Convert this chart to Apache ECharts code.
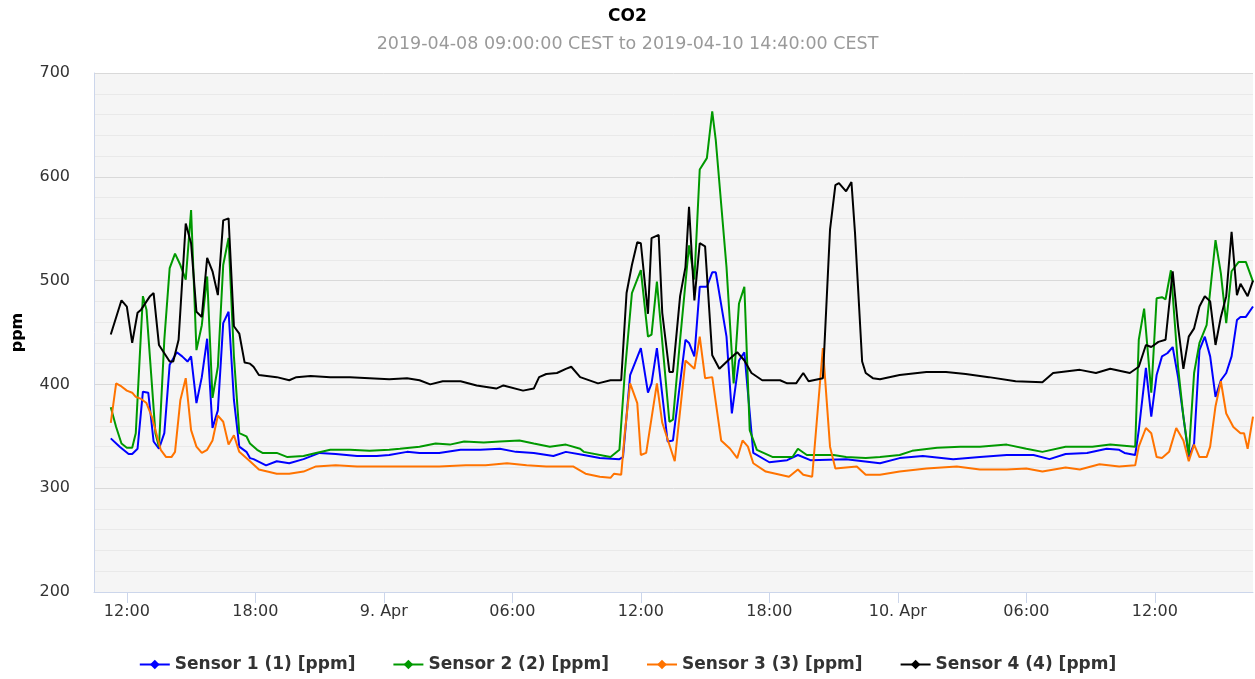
<!DOCTYPE html>
<html>
<head>
<meta charset="utf-8">
<title>CO2</title>
<script src="https://cdn.jsdelivr.net/npm/echarts@6/dist/echarts.min.js"></script>
<style>
  html, body { margin: 0; padding: 0; background: #fff; }
  #co2chart { width: 1255px; height: 679px; }
</style>
</head>
<body>
<div id="co2chart"></div>
<script>
// readings [time 'MM-DD HH:mm' (2019), ppm]
var sensor1 = [
  ['04-08 11:15',348],['04-08 11:40',340],['04-08 12:05',333],['04-08 12:15',333],['04-08 12:30',338],['04-08 12:45',393],
  ['04-08 13:00',392],['04-08 13:15',345],['04-08 13:30',338],['04-08 13:45',353],['04-08 14:00',419],['04-08 14:20',431],
  ['04-08 14:35',427],['04-08 14:50',422],['04-08 15:00',427],['04-08 15:15',382],['04-08 15:30',407],['04-08 15:45',444],
  ['04-08 16:00',358],['04-08 16:15',375],['04-08 16:30',459],['04-08 16:45',470],['04-08 17:00',385],['04-08 17:15',340],
  ['04-08 17:35',335],['04-08 17:45',329],['04-08 17:55',328],['04-08 18:30',322],['04-08 19:00',326],['04-08 19:35',324],
  ['04-08 20:15',328],['04-08 21:00',334],['04-08 21:45',333],['04-08 22:45',331],['04-08 23:40',331],['04-09 00:15',332],
  ['04-09 01:05',335],['04-09 01:40',334],['04-09 02:35',334],['04-09 03:35',337],['04-09 04:30',337],['04-09 05:25',338],
  ['04-09 06:10',335],['04-09 07:00',334],['04-09 07:55',331],['04-09 08:30',335],['04-09 09:20',332],['04-09 10:05',329],
  ['04-09 11:00',328],['04-09 11:10',330],['04-09 11:30',409],['04-09 12:00',435],['04-09 12:20',392],['04-09 12:30',401],
  ['04-09 12:45',435],['04-09 13:15',345],['04-09 13:30',346],['04-09 14:05',443],['04-09 14:15',440],['04-09 14:30',427],
  ['04-09 14:45',494],['04-09 15:05',494],['04-09 15:20',508],['04-09 15:30',508],['04-09 16:00',446],['04-09 16:15',372],
  ['04-09 16:35',423],['04-09 16:50',431],['04-09 17:15',334],['04-09 18:00',325],['04-09 18:50',327],['04-09 19:20',332],
  ['04-09 19:55',327],['04-09 21:35',328],['04-09 23:10',324],['04-10 00:05',329],['04-10 01:10',331],['04-10 02:35',328],
  ['04-10 03:50',330],['04-10 05:05',332],['04-10 06:20',332],['04-10 07:05',328],['04-10 07:50',333],['04-10 08:50',334],
  ['04-10 09:45',338],['04-10 10:20',337],['04-10 10:35',334],['04-10 11:05',332],['04-10 11:15',356],['04-10 11:35',416],
  ['04-10 11:50',369],['04-10 12:05',409],['04-10 12:20',427],['04-10 12:35',430],['04-10 12:50',436],['04-10 13:05',407],
  ['04-10 13:20',369],['04-10 13:35',330],['04-10 13:50',343],['04-10 14:05',433],['04-10 14:20',446],['04-10 14:35',427],
  ['04-10 14:50',388],['04-10 15:05',404],['04-10 15:20',411],['04-10 15:35',427],['04-10 15:50',462],['04-10 16:00',465],
  ['04-10 16:15',465],['04-10 16:35',475]
];

var sensor2 = [
  ['04-08 11:15',378],['04-08 11:30',359],['04-08 11:45',343],['04-08 12:00',339],['04-08 12:15',339],['04-08 12:25',353],
  ['04-08 12:45',485],['04-08 12:55',472],['04-08 13:10',401],['04-08 13:20',353],['04-08 13:30',340],['04-08 13:45',443],
  ['04-08 14:00',512],['04-08 14:15',526],['04-08 14:30',515],['04-08 14:45',501],['04-08 15:00',568],['04-08 15:15',433],
  ['04-08 15:30',457],['04-08 15:45',504],['04-08 16:00',387],['04-08 16:15',417],['04-08 16:30',515],['04-08 16:45',541],
  ['04-08 17:00',427],['04-08 17:15',353],['04-08 17:35',350],['04-08 17:45',343],['04-08 18:05',337],['04-08 18:20',334],
  ['04-08 19:00',334],['04-08 19:30',330],['04-08 20:15',331],['04-08 20:50',334],['04-08 21:30',337],['04-08 22:25',337],
  ['04-08 23:20',336],['04-09 00:15',337],['04-09 00:45',338],['04-09 01:40',340],['04-09 02:25',343],['04-09 03:05',342],
  ['04-09 03:45',345],['04-09 04:40',344],['04-09 05:25',345],['04-09 06:20',346],['04-09 07:00',343],['04-09 07:45',340],
  ['04-09 08:30',342],['04-09 09:10',338],['04-09 09:20',335],['04-09 10:35',330],['04-09 11:00',337],['04-09 11:15',411],
  ['04-09 11:35',488],['04-09 12:00',510],['04-09 12:20',446],['04-09 12:30',448],['04-09 12:45',499],['04-09 13:20',364],
  ['04-09 13:30',366],['04-09 13:50',443],['04-09 14:15',534],['04-09 14:30',501],['04-09 14:45',607],['04-09 15:05',618],
  ['04-09 15:20',663],['04-09 15:30',635],['04-09 16:00',513],['04-09 16:20',401],['04-09 16:35',478],['04-09 16:50',494],
  ['04-09 17:05',356],['04-09 17:25',337],['04-09 18:10',330],['04-09 19:05',330],['04-09 19:20',338],['04-09 19:45',332],
  ['04-09 21:00',332],['04-09 21:35',330],['04-09 22:30',329],['04-09 23:10',330],['04-10 00:05',332],['04-10 00:40',336],
  ['04-10 01:50',339],['04-10 02:55',340],['04-10 03:50',340],['04-10 05:05',342],['04-10 06:00',338],['04-10 06:45',335],
  ['04-10 07:50',340],['04-10 09:05',340],['04-10 09:55',342],['04-10 11:05',340],['04-10 11:15',443],['04-10 11:30',473],
  ['04-10 11:50',392],['04-10 12:05',483],['04-10 12:20',484],['04-10 12:30',482],['04-10 12:45',510],['04-10 13:05',417],
  ['04-10 13:20',369],['04-10 13:35',332],['04-10 13:50',411],['04-10 14:05',440],['04-10 14:25',457],['04-10 14:50',539],
  ['04-10 15:05',507],['04-10 15:20',459],['04-10 15:35',509],['04-10 15:55',518],['04-10 16:15',518],['04-10 16:35',499]
];

var sensor3 = [
  ['04-08 11:15',363],['04-08 11:30',401],['04-08 11:45',398],['04-08 12:00',394],['04-08 12:15',392],['04-08 12:25',388],
  ['04-08 12:40',386],['04-08 12:55',382],['04-08 13:10',369],['04-08 13:20',356],['04-08 13:35',337],['04-08 13:50',330],
  ['04-08 14:05',330],['04-08 14:15',335],['04-08 14:30',385],['04-08 14:45',406],['04-08 15:00',356],['04-08 15:15',340],
  ['04-08 15:30',334],['04-08 15:45',337],['04-08 16:00',346],['04-08 16:15',370],['04-08 16:30',364],['04-08 16:45',342],
  ['04-08 17:00',351],['04-08 17:15',335],['04-08 17:45',326],['04-08 18:10',318],['04-08 19:00',314],['04-08 19:35',314],
  ['04-08 20:15',316],['04-08 20:50',321],['04-08 21:45',322],['04-08 22:45',321],['04-08 23:40',321],['04-09 00:15',321],
  ['04-09 01:05',321],['04-09 01:40',321],['04-09 02:35',321],['04-09 03:50',322],['04-09 04:45',322],['04-09 05:45',324],
  ['04-09 06:40',322],['04-09 07:35',321],['04-09 08:50',321],['04-09 09:25',314],['04-09 10:05',311],['04-09 10:35',310],
  ['04-09 10:45',314],['04-09 11:05',313],['04-09 11:15',353],['04-09 11:30',401],['04-09 11:50',382],['04-09 12:00',332],
  ['04-09 12:15',334],['04-09 12:45',401],['04-09 13:00',363],['04-09 13:35',326],['04-09 14:05',423],['04-09 14:30',415],
  ['04-09 14:45',446],['04-09 15:00',406],['04-09 15:20',407],['04-09 15:45',346],['04-09 16:10',338],['04-09 16:30',329],
  ['04-09 16:45',346],['04-09 17:00',340],['04-09 17:15',324],['04-09 17:50',316],['04-09 18:55',311],['04-09 19:20',318],
  ['04-09 19:35',313],['04-09 20:00',311],['04-09 20:05',312],['04-09 20:30',435],['04-09 20:50',340],['04-09 21:05',319],
  ['04-09 22:05',321],['04-09 22:30',313],['04-09 23:10',313],['04-10 00:05',316],['04-10 01:20',319],['04-10 02:45',321],
  ['04-10 03:50',318],['04-10 05:05',318],['04-10 06:00',319],['04-10 06:45',316],['04-10 07:50',320],['04-10 08:30',318],
  ['04-10 09:25',323],['04-10 10:20',321],['04-10 11:05',322],['04-10 11:15',340],['04-10 11:35',358],['04-10 11:50',353],
  ['04-10 12:05',330],['04-10 12:20',329],['04-10 12:40',335],['04-10 13:00',358],['04-10 13:20',346],['04-10 13:35',326],
  ['04-10 13:50',342],['04-10 14:05',330],['04-10 14:25',330],['04-10 14:35',340],['04-10 14:50',379],['04-10 15:05',403],
  ['04-10 15:20',372],['04-10 15:40',359],['04-10 16:00',353],['04-10 16:10',353],['04-10 16:20',338],['04-10 16:35',369]
];

var sensor4 = [
  ['04-08 11:15',448],['04-08 11:45',481],['04-08 12:00',475],['04-08 12:15',440],['04-08 12:30',469],['04-08 12:40',472],
  ['04-08 13:05',485],['04-08 13:15',488],['04-08 13:30',438],['04-08 13:45',430],['04-08 14:00',422],['04-08 14:10',422],
  ['04-08 14:25',443],['04-08 14:45',555],['04-08 15:00',536],['04-08 15:15',470],['04-08 15:30',465],['04-08 15:45',522],
  ['04-08 16:00',509],['04-08 16:15',486],['04-08 16:30',558],['04-08 16:45',560],['04-08 17:00',456],['04-08 17:15',449],
  ['04-08 17:30',421],['04-08 17:45',420],['04-08 17:55',417],['04-08 18:10',409],['04-08 19:00',407],['04-08 19:35',404],
  ['04-08 19:55',407],['04-08 20:35',408],['04-08 21:30',407],['04-08 22:25',407],['04-08 23:20',406],['04-09 00:15',405],
  ['04-09 01:05',406],['04-09 01:40',404],['04-09 02:10',400],['04-09 02:45',403],['04-09 03:35',403],['04-09 04:20',399],
  ['04-09 05:15',396],['04-09 05:35',399],['04-09 06:30',394],['04-09 07:00',396],['04-09 07:15',407],['04-09 07:35',410],
  ['04-09 08:05',411],['04-09 08:30',415],['04-09 08:45',417],['04-09 09:10',407],['04-09 10:00',401],['04-09 10:35',404],
  ['04-09 11:05',404],['04-09 11:20',488],['04-09 11:35',515],['04-09 11:50',537],['04-09 12:00',536],['04-09 12:20',468],
  ['04-09 12:30',541],['04-09 12:50',544],['04-09 13:00',469],['04-09 13:20',412],['04-09 13:30',412],['04-09 13:50',485],
  ['04-09 14:05',513],['04-09 14:15',571],['04-09 14:30',481],['04-09 14:45',536],['04-09 15:00',533],['04-09 15:20',428],
  ['04-09 15:40',415],['04-09 16:10',425],['04-09 16:30',431],['04-09 16:50',423],['04-09 17:10',411],['04-09 17:40',404],
  ['04-09 18:30',404],['04-09 18:50',401],['04-09 19:15',401],['04-09 19:35',411],['04-09 19:50',403],['04-09 20:30',406],
  ['04-09 20:50',549],['04-09 21:05',592],['04-09 21:15',594],['04-09 21:35',586],['04-09 21:50',595],['04-09 22:00',546],
  ['04-09 22:20',422],['04-09 22:30',411],['04-09 22:50',406],['04-09 23:10',405],['04-10 00:05',409],['04-10 01:20',412],
  ['04-10 02:15',412],['04-10 03:10',410],['04-10 04:15',407],['04-10 05:30',403],['04-10 06:45',402],['04-10 07:15',411],
  ['04-10 08:30',414],['04-10 09:15',411],['04-10 09:55',415],['04-10 10:50',411],['04-10 11:15',417],['04-10 11:35',438],
  ['04-10 11:50',436],['04-10 12:10',441],['04-10 12:30',443],['04-10 12:50',509],['04-10 13:05',456],['04-10 13:20',415],
  ['04-10 13:35',446],['04-10 13:50',454],['04-10 14:05',475],['04-10 14:20',485],['04-10 14:35',480],['04-10 14:50',438],
  ['04-10 15:05',465],['04-10 15:20',485],['04-10 15:35',547],['04-10 15:50',486],['04-10 16:00',497],['04-10 16:20',485],
  ['04-10 16:35',500]
];

// x axis tick positions (every 6 hours)
var tickTimes = ['04-08 12:00', '04-08 18:00', '04-09 00:00', '04-09 06:00', '04-09 12:00',
                 '04-09 18:00', '04-10 00:00', '04-10 06:00', '04-10 12:00'];

var seriesNames = ['Sensor 1 (1) [ppm]', 'Sensor 2 (2) [ppm]', 'Sensor 3 (3) [ppm]', 'Sensor 4 (4) [ppm]'];
var seriesColors = ['#0000ff', '#009900', '#ff7300', '#000000'];
var allSensors = [sensor1, sensor2, sensor3, sensor4];

var fontName = 'DejaVu Sans';

// hours since 2019-04-08 00:00
function toHours(s) {
    var day = parseInt(s.substr(3, 2), 10);
    var hh = parseInt(s.substr(6, 2), 10);
    var mm = parseInt(s.substr(9, 2), 10);
    return (day - 8) * 24 + hh + mm / 60;
}

function toPoints(list) {
    return list.map(function (p) { return [toHours(p[0]), p[1]]; });
}

function pad(n) { return n < 10 ? '0' + n : '' + n; }

var tickValues = tickTimes.map(toHours);

var seriesData = [];
for (var i = 0; i < allSensors.length; i++) {
    seriesData.push({
        name: seriesNames[i],
        type: 'line',
        symbol: 'diamond',
        symbolSize: 11,
        showSymbol: false,
        lineStyle: { width: 2, color: seriesColors[i] },
        itemStyle: { color: seriesColors[i] },
        emphasis: { disabled: true },
        data: toPoints(allSensors[i])
    });
}

var chart = echarts.init(document.getElementById('co2chart'));
var option = {
    animation: false,
    backgroundColor: '#ffffff',
    color: seriesColors,
    title: {
        text: 'CO2',
        subtext: '2019-04-08 09:00:00 CEST to 2019-04-10 14:40:00 CEST',
        left: 'center',
        top: 3,
        itemGap: 10,
        textStyle: { fontFamily: fontName, fontSize: 17, fontWeight: 'bold', color: '#000' },
        subtextStyle: { fontFamily: fontName, fontSize: 17.5, color: '#9a9a9a' }
    },
    legend: {
        data: seriesNames,
        top: 651,
        left: 'center',
        itemGap: 37,
        itemWidth: 30,
        itemHeight: 12,
        textStyle: { fontFamily: fontName, fontSize: 17, fontWeight: 'bold', color: '#333' }
    },
    grid: {
        left: 94,
        right: 2,
        top: 73,
        bottom: 87,
        show: true,
        backgroundColor: '#f5f5f5',
        borderWidth: 0,
        containLabel: false,
        outerBoundsMode: 'none'
    },
    xAxis: {
        type: 'value',
        min: toHours('04-08 10:28'),
        max: toHours('04-10 16:35'),
        axisLine: { show: true, lineStyle: { color: '#ccd6eb', width: 1 } },
        axisTick: { show: true, length: 11, customValues: tickValues, lineStyle: { color: '#ccd6eb' } },
        splitLine: { show: false },
        axisLabel: {
            customValues: tickValues,
            margin: 12,
            fontFamily: fontName,
            fontSize: 16,
            color: '#333',
            formatter: function (value) {
                var h = Math.round(value) % 24;
                if (h === 0) {
                    return (8 + Math.round(value) / 24) + '. Apr';
                }
                return pad(h) + ':00';
            }
        }
    },
    yAxis: {
        type: 'value',
        min: 200,
        max: 700,
        interval: 100,
        name: 'ppm',
        nameLocation: 'middle',
        nameGap: 68,
        nameTextStyle: { fontFamily: fontName, fontSize: 16, fontWeight: 'bold', color: '#000' },
        axisLine: { show: true, lineStyle: { color: '#ccd6eb' } },
        axisTick: { show: false },
        axisLabel: { margin: 24, fontFamily: fontName, fontSize: 16, color: '#333' },
        splitLine: { show: true, lineStyle: { color: '#d9d9d9' } },
        minorTick: { show: false, splitNumber: 5 },
        minorSplitLine: { show: true, lineStyle: { color: '#e9e9e9' } }
    },
    series: seriesData
};
chart.setOption(option);
</script>
</body>
</html>
